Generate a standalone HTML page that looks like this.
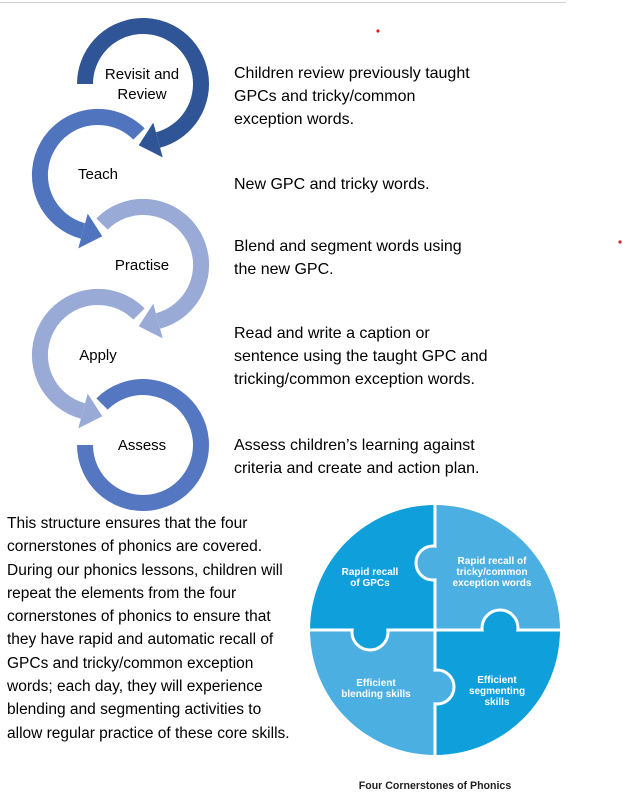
<!DOCTYPE html>
<html><head><meta charset="utf-8"><style>
body{margin:0;width:623px;height:810px;background:#fff;position:relative;overflow:hidden;font-family:"Liberation Sans",sans-serif;color:#000}
.t{position:absolute;font-size:16px;line-height:23px;white-space:nowrap}
.l{position:absolute;font-size:15px;line-height:20px;white-space:nowrap;text-align:center}
</style></head><body>
<div style="position:absolute;left:0;top:2px;width:566px;height:1px;background:#d0d0d0"></div>
<svg width="623" height="810" style="position:absolute;left:0;top:0">
<circle cx="378" cy="31" r="1.6" fill="#e02020"/>
<circle cx="620" cy="242" r="1.6" fill="#e02020"/>
<line x1="63.5" y1="396" x2="63.5" y2="410" stroke="#888" stroke-width="1"/>
<g fill="none" stroke-width="16">
<path d="M85 84 A58 58 0 1 1 158 140" stroke="#2F5597"/>
<path d="M139 134 A58 58 0 1 0 83 231" stroke="#5174BF"/>
<path d="M102 224 A58 58 0 1 1 158 321" stroke="#99AAD6"/>
<path d="M139 314 A58 58 0 1 0 83 411" stroke="#99AAD6"/>
<path d="M102 404 A58 58 0 1 1 85 445" stroke="#5576C1"/>
</g>
<polygon points="162.7,157.4 153.3,122.6 138.7,145.2" fill="#2F5597"/>
<polygon points="78.3,248.4 87.7,213.6 102.3,236.2" fill="#5174BF"/>
<polygon points="162.7,338.4 153.3,303.6 138.7,326.2" fill="#99AAD6"/>
<polygon points="78.3,428.4 87.7,393.6 102.3,416.2" fill="#99AAD6"/>
<defs><clipPath id="cc"><circle cx="435" cy="630" r="125"/></clipPath></defs>
<g clip-path="url(#cc)">
<rect x="300" y="500" width="135" height="130" fill="#0FA0DC"/>
<rect x="435" y="500" width="130" height="130" fill="#4CAFE1"/>
<rect x="300" y="630" width="135" height="130" fill="#4CAFE1"/>
<rect x="435" y="630" width="130" height="130" fill="#0FA0DC"/>
<line x1="435" y1="500" x2="435" y2="760" stroke="#fff" stroke-width="3"/>
<line x1="300" y1="630" x2="570" y2="630" stroke="#fff" stroke-width="3"/>
<circle cx="433" cy="563" r="17" fill="#4CAFE1" stroke="#fff" stroke-width="3"/>
<rect x="436.5" y="544" width="16" height="38" fill="#4CAFE1"/>
<circle cx="370" cy="632" r="18" fill="#0FA0DC" stroke="#fff" stroke-width="3"/>
<rect x="350" y="610" width="40" height="18.5" fill="#0FA0DC"/>
<circle cx="500" cy="628" r="18" fill="#0FA0DC" stroke="#fff" stroke-width="3"/>
<rect x="480" y="631.5" width="40" height="18" fill="#0FA0DC"/>
<circle cx="437" cy="687" r="17" fill="#4CAFE1" stroke="#fff" stroke-width="3"/>
<rect x="417" y="668" width="16.5" height="38" fill="#4CAFE1"/>
</g>
<g font-family="Liberation Sans, sans-serif" font-weight="bold" font-size="10" fill="#fff" text-anchor="middle">
<text x="370" y="575">Rapid recall</text><text x="370" y="586">of GPCs</text>
<text x="492" y="564">Rapid recall of</text><text x="492" y="575">tricky/common</text><text x="492" y="586">exception words</text>
<text x="376" y="686">Efficient</text><text x="376" y="697">blending skills</text>
<text x="497" y="683">Efficient</text><text x="497" y="694">segmenting</text><text x="497" y="705">skills</text>
</g>
<text x="435" y="789" font-family="Liberation Sans, sans-serif" font-weight="bold" font-size="10.6" fill="#222" text-anchor="middle">Four Cornerstones of Phonics</text>
</svg>
<div class="l" style="left:92px;top:65px;width:100px">Revisit and<br>Review</div>
<div class="l" style="left:48px;top:165px;width:100px">Teach</div>
<div class="l" style="left:92px;top:256px;width:100px">Practise</div>
<div class="l" style="left:48px;top:346px;width:100px">Apply</div>
<div class="l" style="left:92px;top:436px;width:100px">Assess</div>
<div class="t" style="left:234px;top:62px">Children review previously taught<br>GPCs and tricky/common<br>exception words.</div>
<div class="t" style="left:234px;top:173px">New GPC and tricky words.</div>
<div class="t" style="left:234px;top:235px">Blend and segment words using<br>the new GPC.</div>
<div class="t" style="left:234px;top:322px">Read and write a caption or<br>sentence using the taught GPC and<br>tricking/common exception words.</div>
<div class="t" style="left:234px;top:434px">Assess children’s learning against<br>criteria and create and action plan.</div>
<div class="t" style="left:7px;top:512px;line-height:23.3px;font-size:15.5px">This structure ensures that the four<br>cornerstones of phonics are covered.<br>During our phonics lessons, children will<br>repeat the elements from the four<br>cornerstones of phonics to ensure that<br>they have rapid and automatic recall of<br>GPCs and tricky/common exception<br>words; each day, they will experience<br>blending and segmenting activities to<br>allow regular practice of these core skills.</div>
</body></html>
